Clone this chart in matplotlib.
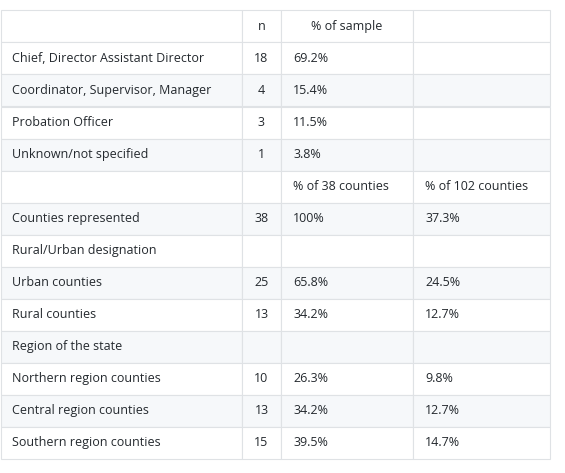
import matplotlib.pyplot as plt
from matplotlib.patches import Rectangle

header = ["", "n", "% of sample", ""]
labels = ["Chief, Director Assistant Director", "Coordinator, Supervisor, Manager",
          "Probation Officer", "Unknown/not specified", "", "Counties represented",
          "Rural/Urban designation", "Urban counties", "Rural counties",
          "Region of the state", "Northern region counties", "Central region counties",
          "Southern region counties"]
n_vals = ["18", "4", "3", "1", "", "38", "", "25", "13", "", "10", "13", "15"]
pct_a = ["69.2%", "15.4%", "11.5%", "3.8%", "% of 38 counties", "100%", "",
         "65.8%", "34.2%", "", "26.3%", "34.2%", "39.5%"]
pct_b = ["", "", "", "", "% of 102 counties", "37.3%", "", "24.5%", "12.7%", "",
         "9.8%", "12.7%", "14.7%"]

cols = [0.5, 242, 281, 413, 550]
top, rh = 10.5, 32
line_c, stripe_c, text_c = "#dfe2e5", "#f6f8fa", "#24292e"

fig = plt.figure(figsize=(5.65, 4.73), dpi=100)
ax = fig.add_axes([0, 0, 1, 1])
ax.set_xlim(0, 565)
ax.set_ylim(473, 0)
ax.axis("off")

rows = [header] + [list(r) for r in zip(labels, n_vals, pct_a, pct_b)]
for i, row in enumerate(rows):
    y = top + i * rh
    fill = stripe_c if (i > 0 and i % 2 == 0) else "white"
    for j, txt in enumerate(row):
        x0, x1 = cols[j], cols[j + 1]
        ax.add_patch(Rectangle((x0, y), x1 - x0, rh, facecolor=fill,
                               edgecolor=line_c, linewidth=0.8))
        if not txt:
            continue
        centered = (i == 0) or (j == 1)
        tx = (x0 + x1) / 2 if centered else x0 + 12
        ax.text(tx, y + rh / 2, txt, ha="center" if centered else "left",
                va="center", fontsize=9, color=text_c, family="Open Sans")

fig.savefig("out.png", dpi=100)
